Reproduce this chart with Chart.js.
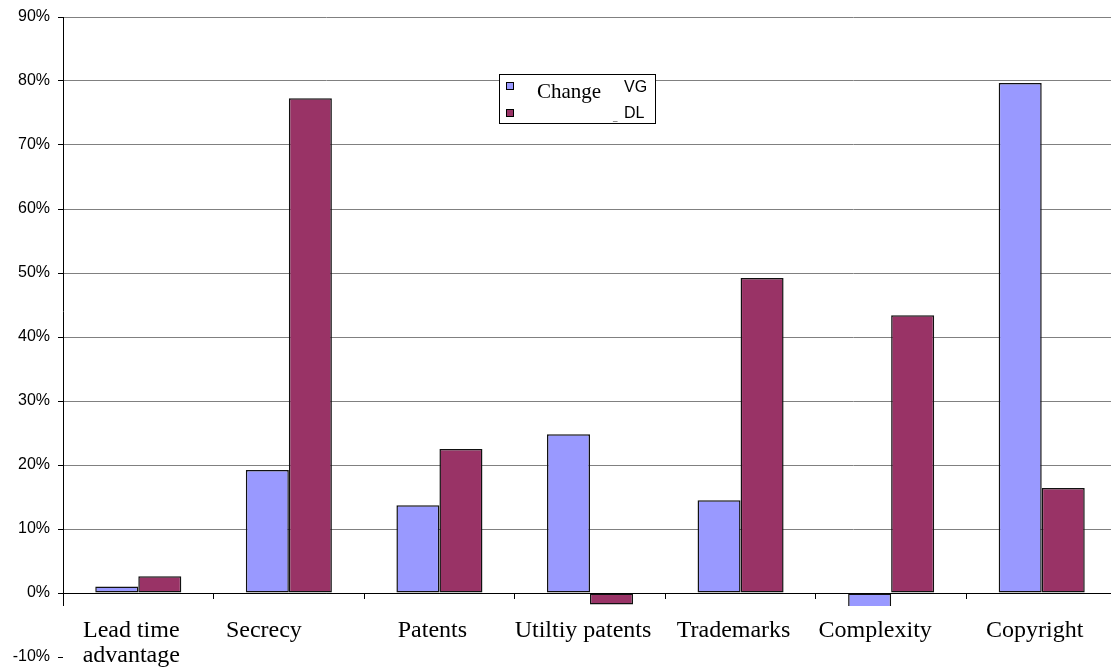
<!DOCTYPE html>
<html>
<head>
<meta charset="utf-8">
<script src="https://cdn.jsdelivr.net/npm/chart.js@4.4.1/dist/chart.umd.min.js"></script>
<style>
  html, body { margin: 0; padding: 0; background: #fff; overflow: hidden; }
  #wrap { width: 1111px; height: 670px; overflow: hidden; position: relative; }
  canvas { display: block; }
</style>
</head>
<body>
<div id="wrap"><canvas id="c" width="1117" height="670"></canvas></div>
<script>
// ---- data ----
const categories = [['Lead time', 'advantage'], 'Secrecy      ', 'Patents', 'Utiltiy patents', 'Trademarks', 'Complexity   ', 'Copyright'];
const changeVG = [1.0, 19.2, 13.7, 24.8, 14.5, -4.0, 79.7];
const changeDL = [2.6, 77.3, 22.5, -1.8, 49.2, 43.4, 16.4];
const seriesLabels = ['Change_VG', 'Change_DL'];
const yMin = -10, yMax = 90, yStep = 10;

const colVG = '#9999FF';
const colDL = '#993366';

const yAxisLine = {
  id: 'yAxisLine',
  beforeDatasetsDraw(chart) {
    const ctx = chart.ctx, a = chart.chartArea, y = chart.scales.y;
    const bottom = y.getPixelForValue(0) + 13;
    ctx.save();
    ctx.strokeStyle = '#000';
    ctx.lineWidth = 1;
    ctx.beginPath();
    ctx.moveTo(Math.round(a.left) + 0.5, a.top);
    ctx.lineTo(Math.round(a.left) + 0.5, bottom);
    ctx.stroke();
    ctx.restore();
  }
};

const legendBox = {
  id: 'legendBox',
  afterDraw(chart) {
    const ctx = chart.ctx;
    const ds = chart.data.datasets;
    ctx.save();
    ctx.fillStyle = '#fff';
    ctx.fillRect(499.5, 74.5, 156, 49);
    ctx.strokeStyle = '#000';
    ctx.lineWidth = 1;
    ctx.strokeRect(499.5, 74.5, 156, 49);
    const sq = [[506, 82], [506, 109]];
    ds.forEach((d, i) => {
      ctx.fillStyle = d.backgroundColor;
      ctx.fillRect(sq[i][0], sq[i][1], 8, 8);
      ctx.strokeStyle = '#000';
      ctx.strokeRect(sq[i][0] + 0.5, sq[i][1] + 0.5, 7, 7);
    });
    const parts = ds.map(d => d.label.split('_'));
    ctx.fillStyle = '#000';
    ctx.textBaseline = 'alphabetic';
    ctx.font = '21px "Liberation Serif", "Times New Roman", serif';
    ctx.fillText(parts[0][0], 537, 98);
    ctx.font = '16px "Liberation Sans", Arial, sans-serif';
    ctx.fillText(parts[0][1], 624, 92);
    ctx.fillText(parts[1][1], 624, 118);
    ctx.font = '8px "Liberation Sans", Arial, sans-serif';
    ctx.fillText('_', 613, 120);
    ctx.restore();
  }
};

const barCommon = {
  borderColor: '#111', borderWidth: 1.5, borderSkipped: false,
  barPercentage: 1, categoryPercentage: 2 / 3.5,
  clip: { left: 0, top: 0, right: 0, bottom: -51 }
};

new Chart(document.getElementById('c'), {
  type: 'bar',
  data: {
    labels: categories,
    datasets: [
      Object.assign({ label: seriesLabels[0], data: changeVG, backgroundColor: colVG }, barCommon),
      Object.assign({ label: seriesLabels[1], data: changeDL, backgroundColor: colDL }, barCommon)
    ]
  },
  options: {
    responsive: false,
    animation: false,
    layout: { padding: { top: 17, bottom: 13, left: 0, right: 0 } },
    plugins: { legend: { display: false }, tooltip: { enabled: false } },
    scales: {
      x: {
        position: { y: 0 },
        offset: true,
        grid: { drawOnChartArea: false, offset: true, tickLength: 5, tickColor: '#000' },
        border: { display: true, color: '#000', width: 1 },
        ticks: {
          autoSkip: false, maxRotation: 0, minRotation: 0, padding: 20, labelOffset: -7,
          color: '#000',
          font: { family: '"Liberation Serif", "Times New Roman", serif', size: 24, lineHeight: 1.05 }
        }
      },
      y: {
        min: yMin, max: yMax,
        afterFit: (s) => { s.width = 63; s.paddingTop = 0; s.paddingBottom = 0; },
        border: { display: false },
        grid: {
          tickLength: 5,
          tickColor: '#000',
          lineWidth: 1,
          color: (c) => c.tick && c.tick.value === yMin ? 'rgba(0,0,0,0)' : (c.tick && c.tick.value === 0 ? '#000' : '#808080')
        },
        ticks: {
          stepSize: yStep, padding: 8, color: '#000',
          font: { family: '"Liberation Sans", Arial, sans-serif', size: 16 },
          callback: (v) => v + '%'
        }
      }
    }
  },
  plugins: [yAxisLine, legendBox]
});
</script>
</body>
</html>
